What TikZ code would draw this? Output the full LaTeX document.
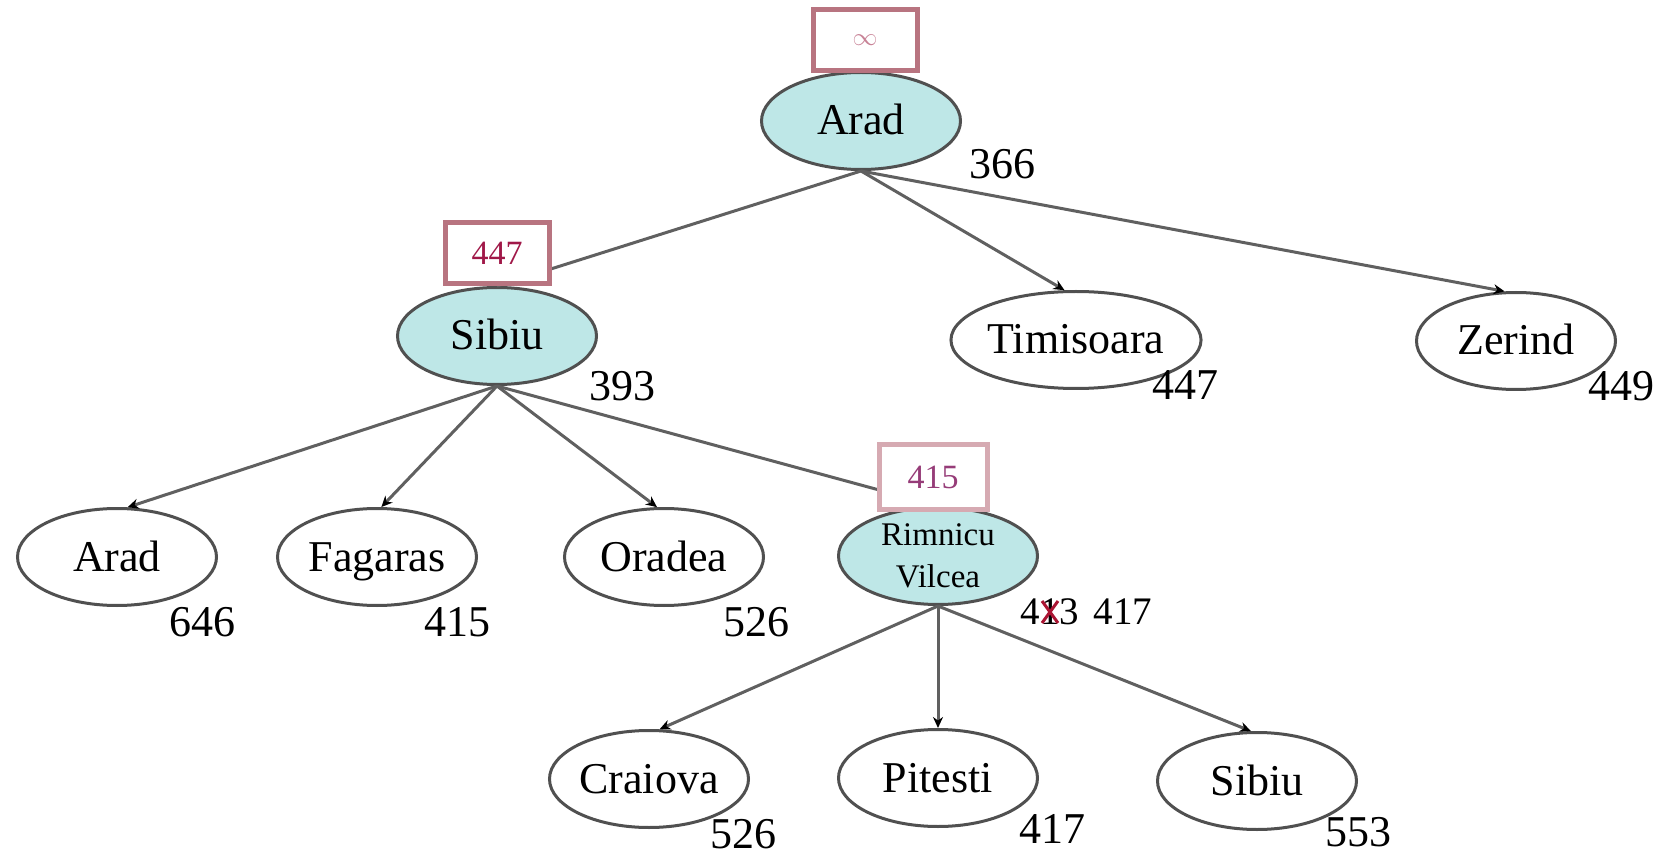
\documentclass[tikz,border=0pt]{standalone}
\usepackage{fontspec}
\setmainfont{Liberation Serif}
\usetikzlibrary{shapes.geometric,arrows.meta}

\definecolor{edgegray}{RGB}{96,96,96}
\definecolor{rimgray}{RGB}{80,80,80}
\definecolor{openfill}{RGB}{190,231,231}
\definecolor{limitbox}{RGB}{184,116,128}
\definecolor{limitboxlight}{RGB}{214,170,178}
\definecolor{limitred}{RGB}{160,24,72}
\definecolor{limitpurple}{RGB}{150,60,120}
\definecolor{infpink}{RGB}{200,130,150}
\definecolor{strikered}{RGB}{170,20,50}

\begin{document}
\begin{tikzpicture}[x=1pt,y=-1pt,
  city/.style={ellipse, draw=rimgray, line width=3pt, minimum width=199pt,
    minimum height=97pt, inner sep=0pt, text height=30pt, text depth=2pt,
    font=\fontsize{44}{50}\selectfont},
  expanded/.style={city, fill=openfill},
  fval/.style={inner sep=0pt, font=\fontsize{44}{50}\selectfont},
  fsmall/.style={inner sep=0pt, font=\fontsize{39}{44}\selectfont},
  limit/.style={rectangle, draw=limitbox, line width=5pt, fill=white,
    minimum width=104pt, minimum height=61pt, inner sep=0pt,
    font=\fontsize{34}{40}\selectfont},
  link/.style={draw=edgegray, line width=3pt, -{Stealth[length=11pt,width=10pt,color=black]}},
  plain/.style={draw=edgegray, line width=3pt}
]
\useasboundingbox (0,0) rectangle (1666,858);

% search tree nodes
\node[expanded] (arad) at (861,121) {Arad};
\node[expanded] (sibiu) at (497,336) {Sibiu};
\node[city] (timisoara) at (1076,340) {Timisoara};
\node[city] (zerind) at (1516,341) {Zerind};
\node[city] (arad2) at (117,557) {Arad};
\node[city] (fagaras) at (377,557) {Fagaras};
\node[city] (oradea) at (664,557) {Oradea};
\node[expanded, align=center, text height=, text depth=,
  font=\fontsize{33}{42}\selectfont] (rimnicu) at (938,556) {Rimnicu\\Vilcea};
\node[city] (craiova) at (649,779) {Craiova};
\node[city] (pitesti) at (938,778) {Pitesti};
\node[city] (sibiu2) at (1257,781) {Sibiu};

% f-values
\node[fval] (f366) at (1002,164) {366};
\node[fval] (f393) at (622,386) {393};
\node[fval] (f447) at (1185,385) {447};
\node[fval] (f449) at (1621,386) {449};
\node[fval] (f646) at (202,622) {646};
\node[fval] (f415) at (457,622) {415};
\node[fval] (f526a) at (756,622) {526};
\node[fsmall] (f413) at (1050,612) {413};
\node[fsmall] (f417a) at (1123,612) {417};
\node[fval] (f526b) at (743,834) {526};
\node[fval] (f417b) at (1052,829) {417};
\node[fval] (f553) at (1358,832) {553};

% crossed-out old value
\draw[strikered, line width=3pt] ([shift={(-8,-11)}]f413.center) -- ([shift={(8,11)}]f413.center);
\draw[strikered, line width=3pt] ([shift={(-8,11)}]f413.center) -- ([shift={(8,-11)}]f413.center);

% tree edges
\draw[plain] (arad.south) -- (sibiu.north);
\draw[link] (arad.south) -- (timisoara.103);
\draw[link] (arad.south) -- (zerind.103);
\draw[link] (sibiu.south) -- (arad2.78);
\draw[link] (sibiu.south) -- (fagaras.85);
\draw[link] (sibiu.south) -- (oradea.98);
\draw[plain] (sibiu.south) -- (rimnicu.north);
\draw[link] (rimnicu.south) -- (craiova.78);
\draw[link] (rimnicu.south) -- (pitesti.north);
\draw[link] (rimnicu.south) -- (sibiu2.97);

% f-limit boxes
\node[limit] (limarad) at (865,40) {\fontsize{30}{34}\selectfont\color{infpink}$\infty$};
\node[limit, text=limitred] (limsibiu) at (497,253) {447};
\node[limit, draw=limitboxlight, text=limitpurple, minimum width=108pt, minimum height=65pt] (limrimnicu) at (933,477) {415};
\end{tikzpicture}
\end{document}
